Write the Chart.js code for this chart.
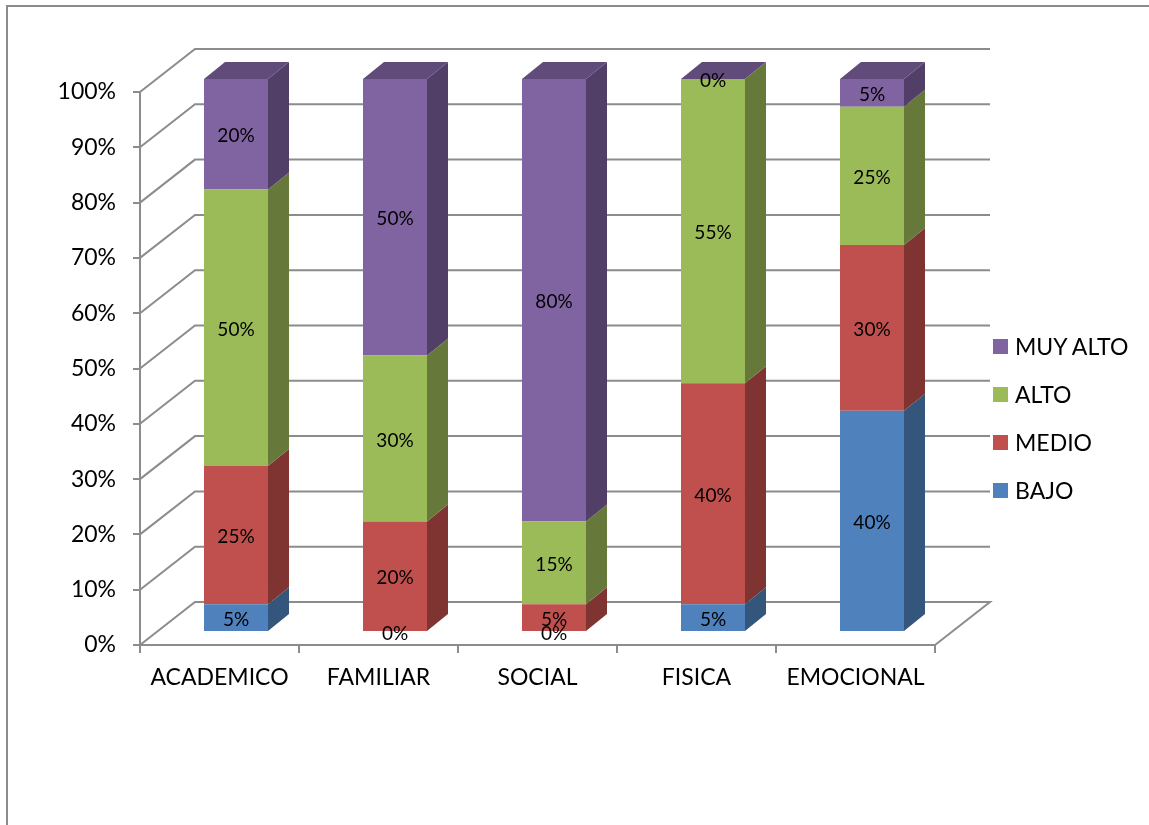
<!DOCTYPE html>
<html lang="es">
  <head>
    <meta charset="UTF-8" />
    <title>NIVELES</title>
    <style>
      body { margin: 0; background: #fff; }
      #wrap { position: relative; width: 1149px; height: 825px; overflow: hidden; }
      #frame {
        position: absolute; left: 6px; top: 5px; right: -4px; bottom: -4px;
        border-top: 2px solid #8c8c8c; border-left: 2px solid #8c8c8c;
      }
      #chart { position: absolute; left: 0; top: 0; }
      #legend {
        position: absolute; left: 993px; top: 322px;
        font-family: Lato, "Open Sans", sans-serif; font-size: 23px; color: #000;
      }
      .item { height: 48px; display: flex; align-items: center; }
      .sw { width: 15px; height: 15px; margin-right: 7px; }
    </style>
  </head>
  <body>
    <div id="wrap">
      <div id="frame"></div>
      <canvas id="chart" width="1149" height="825"></canvas>
      <div id="legend"></div>
    </div>

    <script src="https://cdn.jsdelivr.net/npm/chart.js@4.4.1/dist/chart.umd.min.js"></script>
    <script>
      // datos
      const categories = ["ACADEMICO", "FAMILIAR", "SOCIAL", "FISICA", "EMOCIONAL"];
      const bajo = [5, 0, 0, 5, 40];
      const medio = [25, 20, 5, 40, 30];
      const alto = [50, 30, 15, 55, 25];
      const muyAlto = [20, 50, 80, 0, 5];
      const seriesNames = ["BAJO", "MEDIO", "ALTO", "MUY ALTO"];
      const yTicks = [0, 10, 20, 30, 40, 50, 60, 70, 80, 90, 100];

      const frontColors = ["#4f81bd", "#c0504d", "#9bbb59", "#8064a2"];
      const sideColors = ["#34557c", "#7f3432", "#66793a", "#523f68"];
      const topColors = ["#3f6797", "#9a403d", "#7c9547", "#604b7a"];
      const gridColor = "#8c8c8c";

      // profundidad del efecto 3D
      const WALL_DX = 55, WALL_DY = 43;
      const BAR_DX = 16.5, BAR_DY = 13;
      const DEPTH_X = 21, DEPTH_Y = 17;
      const FONT = "Lato, 'Open Sans', sans-serif";

      const seriesData = [bajo, medio, alto, muyAlto];

      const walls3d = {
        id: "walls3d",
        beforeDatasetsDraw(chart) {
          const { ctx, chartArea: a, scales } = chart;
          ctx.save();
          ctx.strokeStyle = gridColor;
          ctx.lineWidth = 2;
          yTicks.forEach((v) => {
            const py = scales.y.getPixelForValue(v);
            ctx.beginPath();
            ctx.moveTo(a.left, py);
            ctx.lineTo(a.left + WALL_DX, py - WALL_DY);
            ctx.lineTo(a.right + WALL_DX, py - WALL_DY);
            if (v === 0) ctx.lineTo(a.right, py);
            ctx.stroke();
          });
          ctx.restore();
          // las barras se dibujan un poco hacia el fondo
          ctx.save();
          ctx.translate(BAR_DX, -BAR_DY);
        },
        afterDatasetsDraw(chart) {
          const { ctx } = chart;
          const metas = seriesData.map((s, d) => chart.getDatasetMeta(d));
          categories.forEach((c, i) => {
            metas.forEach((meta, d) => {
              const el = meta.data[i];
              const left = el.x - el.width / 2, right = el.x + el.width / 2;
              const top = Math.min(el.y, el.base), bottom = Math.max(el.y, el.base);
              if (bottom - top > 0.5) {
                ctx.fillStyle = sideColors[d];
                ctx.beginPath();
                ctx.moveTo(right, top);
                ctx.lineTo(right + DEPTH_X, top - DEPTH_Y);
                ctx.lineTo(right + DEPTH_X, bottom - DEPTH_Y);
                ctx.lineTo(right, bottom);
                ctx.closePath();
                ctx.fill();
              }
              if (d === metas.length - 1) {
                ctx.fillStyle = topColors[d];
                ctx.beginPath();
                ctx.moveTo(left, top);
                ctx.lineTo(left + DEPTH_X, top - DEPTH_Y);
                ctx.lineTo(right + DEPTH_X, top - DEPTH_Y);
                ctx.lineTo(right, top);
                ctx.closePath();
                ctx.fill();
              }
            });
          });
          // etiquetas de valores
          ctx.fillStyle = "#000";
          ctx.font = "19px " + FONT;
          ctx.textAlign = "center";
          ctx.textBaseline = "middle";
          metas.forEach((meta, d) => {
            meta.data.forEach((el, i) => {
              ctx.fillText(seriesData[d][i] + "%", el.x, (el.y + el.base) / 2 + 2);
            });
          });
          ctx.restore();
        },
      };

      const chart = new Chart(document.getElementById("chart"), {
        type: "bar",
        data: {
          labels: categories,
          datasets: seriesData.map((s, d) => ({
            label: seriesNames[d],
            data: s,
            backgroundColor: frontColors[d],
            borderWidth: 0,
            categoryPercentage: 1,
            barPercentage: 0.4025,
          })),
        },
        options: {
          responsive: false,
          animation: false,
          layout: { padding: { left: 0, top: 92, right: 214, bottom: 0 } },
          plugins: { legend: { display: false }, tooltip: { enabled: false } },
          scales: {
            x: {
              stacked: true,
              grid: { offset: true, drawOnChartArea: false, drawTicks: true, tickLength: 8, color: gridColor, lineWidth: 2 },
              border: { display: true, color: gridColor, width: 2 },
              ticks: { color: "#000", font: { family: FONT, size: 23 }, padding: 11, maxRotation: 0 },
              afterFit: (s) => { s.height = 180; },
            },
            y: {
              stacked: true,
              min: 0,
              max: 100,
              afterBuildTicks: (s) => { s.ticks = yTicks.map((v) => ({ value: v })); },
              grid: { drawOnChartArea: false, drawTicks: true, tickLength: 7, color: gridColor, lineWidth: 2 },
              border: { display: true, color: gridColor, width: 2 },
              ticks: { color: "#000", font: { family: FONT, size: 23 }, padding: 17, callback: (v) => v + "%" },
              afterFit: (s) => { s.width = 140; },
            },
          },
        },
        plugins: [walls3d],
      });

      // leyenda en orden inverso, como en el original
      const legend = document.getElementById("legend");
      for (let d = seriesNames.length - 1; d >= 0; d--) {
        const item = document.createElement("div");
        item.className = "item";
        item.innerHTML = '<span class="sw" style="background:' + frontColors[d] + '"></span>' + seriesNames[d];
        legend.appendChild(item);
      }
    </script>
  </body>
</html>
